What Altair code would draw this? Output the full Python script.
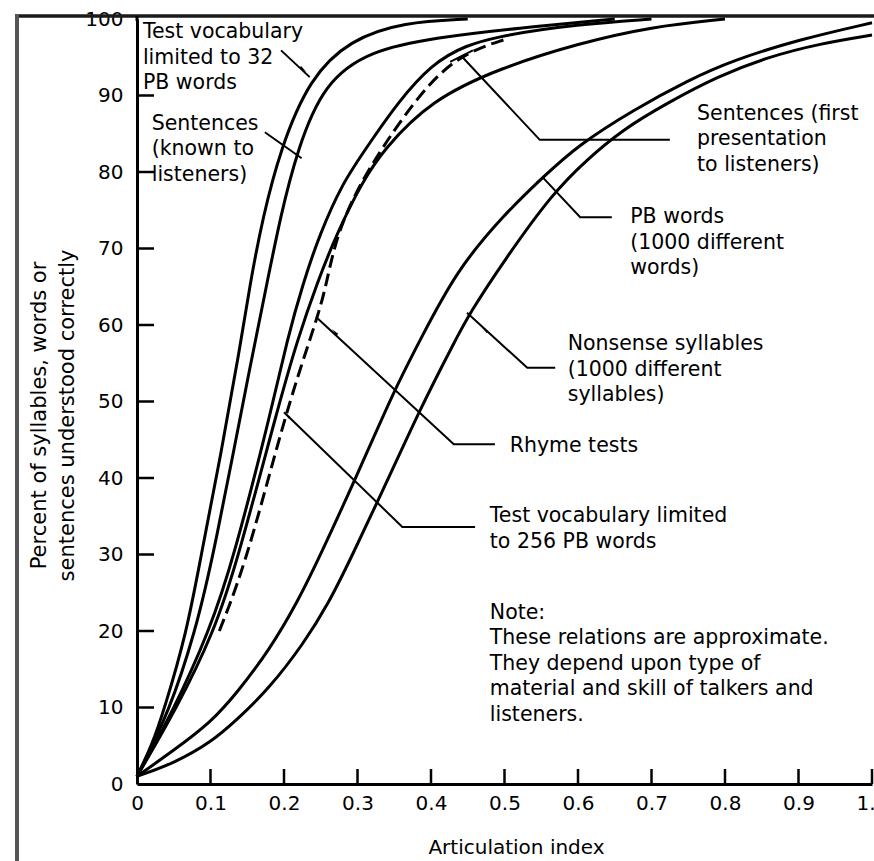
import math
import altair as alt
import pandas as pd

FONT = "DejaVu Sans"

# Intelligibility curves: articulation index (ai) vs percent understood (pc)
ai_pb32 = [0, 0.02, 0.037, 0.068, 0.086, 0.114, 0.14, 0.154, 0.171, 0.195, 0.235, 0.29, 0.363, 0.45]
pc_pb32 = [1, 5, 9.7, 20, 29.3, 43, 57, 65.5, 74, 83, 92.3, 97.3, 99.6, 100]

ai_sent_known = [0, 0.045, 0.079, 0.103, 0.158, 0.177, 0.195, 0.218, 0.254, 0.317, 0.408, 0.517, 0.65]
pc_sent_known = [1, 9.7, 19.9, 29.3, 56.7, 65.5, 74.1, 82.9, 91.6, 95.9, 97.6, 98.8, 100]

ai_pb256 = [0, 0.05, 0.098, 0.131, 0.184, 0.204, 0.226, 0.249, 0.28, 0.31, 0.4, 0.494, 0.6, 0.7]
pc_pb256 = [1, 9.7, 19.9, 29.3, 49.3, 58, 65.5, 72, 78.6, 82.9, 95.3, 97.9, 99.3, 100]

ai_sent_first = [0, 0.053, 0.105, 0.137, 0.192, 0.218, 0.245, 0.272, 0.306, 0.335, 0.4, 0.494, 0.6, 0.7, 0.8]
pc_sent_first = [1, 9.7, 19.9, 29.3, 49.3, 58, 65.5, 72, 78.6, 82.9, 89.4, 93.6, 96.8, 99, 100]

ai_rhyme = [0.112, 0.15, 0.204, 0.246, 0.258, 0.272, 0.31, 0.4, 0.457, 0.5]
pc_rhyme = [20, 29.3, 49.3, 61, 65.5, 72, 80, 92.5, 96, 97.3]

ai_pb1000 = [0, 0.05, 0.1, 0.136, 0.18, 0.218, 0.25, 0.3, 0.35, 0.385, 0.435, 0.5, 0.552, 0.6, 0.675, 0.75, 0.811, 0.9, 1.0]
pc_pb1000 = [1, 4.4, 8, 11.9, 17.5, 23.7, 30, 40.5, 51.5, 58, 67.2, 74.5, 79.3, 83.5, 88.1, 92, 94.6, 97.3, 99.5]

ai_nonsense = [0, 0.05, 0.1, 0.136, 0.18, 0.227, 0.26, 0.29, 0.34, 0.385, 0.433, 0.453, 0.5, 0.566, 0.612, 0.66, 0.721, 0.79, 0.857, 0.93, 1.0]
pc_nonsense = [1, 2.7, 5.4, 8.4, 12.5, 18.4, 23.5, 29.3, 39.5, 49, 58, 61.6, 68.5, 77.3, 81.6, 85.5, 89, 92.5, 95, 96.8, 97.9]

solid_curves = {
    "pb32": (ai_pb32, pc_pb32),
    "sent_known": (ai_sent_known, pc_sent_known),
    "pb256": (ai_pb256, pc_pb256),
    "sent_first": (ai_sent_first, pc_sent_first),
    "pb1000": (ai_pb1000, pc_pb1000),
    "nonsense": (ai_nonsense, pc_nonsense),
}
dashed_curves = {"rhyme": (ai_rhyme, pc_rhyme)}

# Axis ticks
x_ticks = [0.1, 0.2, 0.3, 0.4, 0.5, 0.6, 0.7, 0.8, 0.9, 1.0]
y_ticks = [10, 20, 30, 40, 50, 60, 70, 80, 90]

# Callout labels (left edge, first baseline) in data units
label_text = [
    "Test vocabulary\nlimited to 32\nPB words",
    "Sentences\n(known to\nlisteners)",
    "Sentences (first\npresentation\nto listeners)",
    "PB words\n(1000 different\nwords)",
    "Nonsense syllables\n(1000 different\nsyllables)",
    "Rhyme tests",
    "Test vocabulary limited\nto 256 PB words",
    "Note:\nThese relations are approximate.\nThey depend upon type of\nmaterial and skill of talkers and\nlisteners.",
]
label_ai = [0.008, 0.020, 0.762, 0.671, 0.586, 0.507, 0.480, 0.480]
label_pc = [97.5, 85.5, 86.8, 73.3, 56.7, 43.4, 34.2, 21.6]

# Leader lines from labels to curves
leaders = {
    "pb32": ([0.196, 0.235], [95.9, 92.4]),
    "sent_known": ([0.174, 0.224], [85.2, 81.8]),
    "sent_first": ([0.725, 0.548, 0.441], [84.2, 84.2, 95.2]),
    "sent_first_bar": ([0.426, 0.457], [94.4, 95.9]),
    "pb1000": ([0.646, 0.603, 0.552], [74.1, 74.1, 79.3]),
    "pb1000_bar": ([0.544, 0.5605], [78.6, 80.05]),
    "nonsense": ([0.569, 0.531, 0.449], [54.4, 54.4, 61.6]),
    "rhyme": ([0.487, 0.431, 0.244], [44.4, 44.4, 61.0]),
    "pb256": ([0.46, 0.361, 0.2], [33.6, 33.6, 48.6]),
}
# Arrowheads: (tail point, head point) along a leader
arrows = [
    ((0.196, 95.9), (0.225, 93.5)),
    ((0.531, 54.4), (0.474, 59.3)),
    ((0.431, 44.4), (0.27, 59.0)),
    ((0.361, 33.6), (0.205, 48.1)),
]

W, H = 735, 765


def long_table(curves):
    rows = []
    for name, (xs, ys) in curves.items():
        for i, (a, p) in enumerate(zip(xs, ys)):
            rows.append({"curve": name, "i": i, "ai": a, "pc": p})
    return pd.DataFrame(rows)


solid_df = long_table(solid_curves)
dashed_df = long_table(dashed_curves)
leader_df = long_table(leaders)
labels_df = pd.DataFrame({"ai": label_ai, "pc": label_pc, "text": label_text})

arrow_rows = []
for (x1, y1), (x2, y2) in arrows:
    dx = (x2 - x1) * W
    dy = -(y2 - y1) * H / 100.0
    ang = math.degrees(math.atan2(dx, -dy)) % 360
    arrow_rows.append({"ai": x2, "pc": y2, "angle": ang})
arrow_df = pd.DataFrame(arrow_rows)

x_scale = alt.Scale(domain=[0, 1], nice=False, zero=False)
y_scale = alt.Scale(domain=[0, 100], nice=False, zero=False)

x_axis = alt.Axis(
    values=[0] + x_ticks,
    labelExpr="datum.value == 0 ? '0' : format(datum.value, '.1f')",
    ticks=False, tickSize=0, grid=False,
    domainColor="black", domainWidth=3,
    labelFont=FONT, labelFontSize=20, labelColor="black",
    labelPadding=9, labelFlush=False,
    title="Articulation index", titleFont=FONT, titleFontSize=20,
    titleFontWeight="normal", titleColor="black",
    titleX=379, titleY=69, titleBaseline="alphabetic", titleAlign="center",
)
y_axis = alt.Axis(
    values=[0] + y_ticks + [100],
    ticks=False, tickSize=0, grid=False,
    domainColor="black", domainWidth=3,
    labelFont=FONT, labelFontSize=20, labelColor="black",
    labelPadding=14, labelFlush=False,
    title=["Percent of syllables, words or", "sentences understood correctly"],
    titleFont=FONT, titleFontSize=21, titleFontWeight="normal", titleColor="black",
    titleAngle=270, titleX=-92, titleY=396, titleAlign="center",
    titleBaseline="alphabetic", titleLineHeight=28,
)

base_x = alt.X("ai:Q", scale=x_scale, axis=x_axis)
base_y = alt.Y("pc:Q", scale=y_scale, axis=y_axis)

solid = alt.Chart(solid_df).mark_line(
    color="black", strokeWidth=3, interpolate="basis"
).encode(x=base_x, y=base_y, detail="curve:N", order="i:Q")

dashed = alt.Chart(dashed_df).mark_line(
    color="black", strokeWidth=3, interpolate="basis", strokeDash=[13, 6]
).encode(x="ai:Q", y="pc:Q", detail="curve:N", order="i:Q")

leader_lines = alt.Chart(leader_df).mark_line(
    color="black", strokeWidth=2
).encode(x="ai:Q", y="pc:Q", detail="curve:N", order="i:Q")

heads = alt.Chart(arrow_df).mark_point(
    shape="wedge", filled=True, color="black", size=90, opacity=1
).encode(x="ai:Q", y="pc:Q", angle=alt.Angle("angle:Q", scale=None))

labels = alt.Chart(labels_df).mark_text(
    align="left", baseline="alphabetic", font=FONT, fontSize=20.5,
    lineBreak="\n", lineHeight=25.5, color="black"
).encode(x="ai:Q", y="pc:Q", text="text:N")

xt = alt.Chart(pd.DataFrame({"ai": x_ticks})).mark_rule(
    color="black", strokeWidth=2.5
).encode(x="ai:Q", y=alt.value(H), y2=alt.value(H - 15))

yt = alt.Chart(pd.DataFrame({"pc": y_ticks})).mark_rule(
    color="black", strokeWidth=2.5
).encode(y="pc:Q", x=alt.value(0), x2=alt.value(17))

# Figure frame: top edge meets the 100 % level, left edge in grey
one = pd.DataFrame({"k": [0]})
frame_top = alt.Chart(one).mark_rule(color="#1a1a1a", strokeWidth=3.5).encode(
    x=alt.value(-120), x2=alt.value(W + 2), y=alt.value(-3)
)
frame_left = alt.Chart(one).mark_rule(color="#555", strokeWidth=4).encode(
    x=alt.value(-120), y=alt.value(-5), y2=alt.value(H + 80)
)
y_top = alt.Chart(one).mark_rule(color="black", strokeWidth=3).encode(
    x=alt.value(0), y=alt.value(-3), y2=alt.value(2)
)

chart = alt.layer(
    frame_top, frame_left, y_top, solid, dashed, leader_lines, heads, labels, xt, yt
).properties(
    width=W, height=H, autosize="none",
    padding={"left": 137, "top": 19, "right": 2, "bottom": 77},
    background="white",
).configure_view(stroke="transparent")

chart.save("out.html", embed_options={"renderer": "svg", "actions": False})
